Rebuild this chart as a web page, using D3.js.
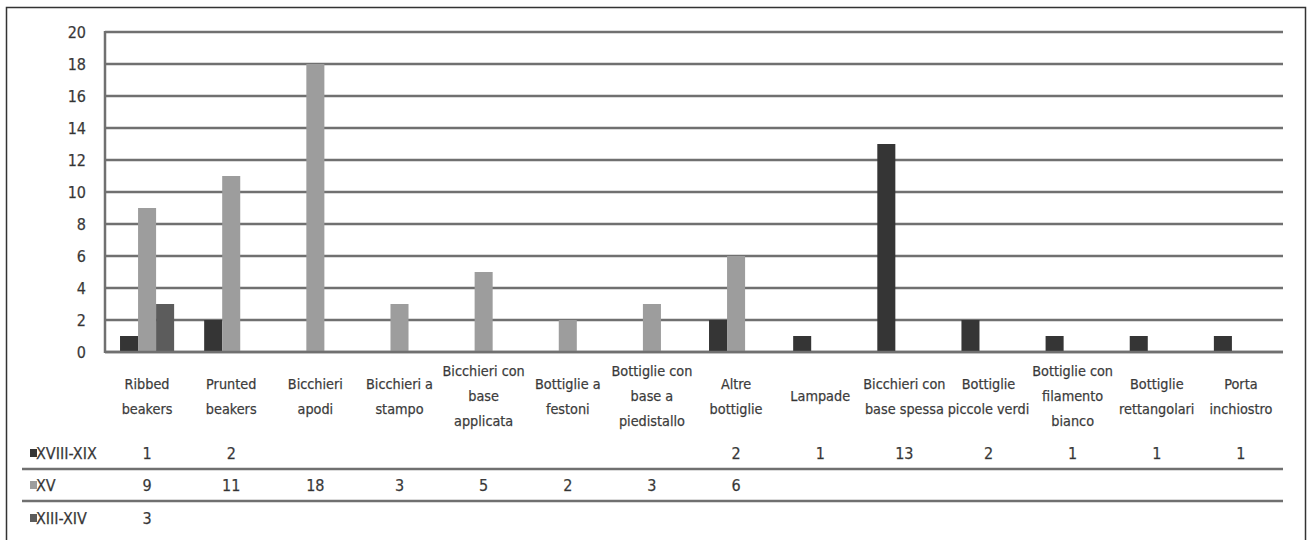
<!DOCTYPE html>
<html><head><meta charset="utf-8">
<script src="https://cdn.jsdelivr.net/npm/d3@7"></script>
<style>
html,body{margin:0;padding:0;background:#fff;}
svg text{font-family:"Liberation Sans Narrow","DejaVu Sans Condensed","Arial Narrow",sans-serif;fill:#333;stroke:#555;stroke-width:0.25px;}
</style></head>
<body><svg id="c" width="1307" height="540"></svg>
<script>
const categories = [
  ["Ribbed","beakers"],["Prunted","beakers"],["Bicchieri","apodi"],["Bicchieri a","stampo"],
  ["Bicchieri con","base","applicata"],["Bottiglie a","festoni"],["Bottiglie con","base a","piedistallo"],
  ["Altre","bottiglie"],["Lampade"],["Bicchieri con","base spessa"],["Bottiglie","piccole verdi"],
  ["Bottiglie con","filamento","bianco"],["Bottiglie","rettangolari"],["Porta","inchiostro"]
];
const seriesNames = ["XVIII-XIX","XV","XIII-XIV"];
const seriesColors = ["#353535","#9d9d9d","#5c5c5c"];
const valuesXVIII = [1,2,null,null,null,null,null,2,1,13,2,1,1,1];
const valuesXV = [9,11,18,3,5,2,3,6,null,null,null,null,null,null];
const valuesXIII = [3,null,null,null,null,null,null,null,null,null,null,null,null,null];
const yTicks = [0,2,4,6,8,10,12,14,16,18,20];

const series = [valuesXVIII, valuesXV, valuesXIII];
const svg = d3.select("#c");
const L = 105, R = 1283, T = 32, B = 352;

// outer frame
svg.append("rect").attr("x",6.5).attr("y",7.5).attr("width",1299).attr("height",545)
  .attr("fill","none").attr("stroke","#333").attr("stroke-width",1.5);

const idx = d3.range(categories.length);
const p = 0.357;
const x = d3.scaleBand().domain(idx).range([L,R]).paddingInner(p).paddingOuter(p/2);
const xs = d3.scaleBand().domain(d3.range(series.length)).range([0,x.bandwidth()]);
const y = d3.scaleLinear().domain([0,20]).range([B,T]);

// gridlines
svg.append("g").selectAll("line").data(yTicks).join("line")
  .attr("x1",L).attr("x2",R).attr("y1",d=>y(d)).attr("y2",d=>y(d))
  .attr("stroke","#707070").attr("stroke-width",2.5);

// y axis
const yAxis = d3.axisLeft(y).tickValues(yTicks).tickSize(0).tickPadding(0);
const gy = svg.append("g").attr("transform",`translate(${L-19},0)`).call(yAxis);
gy.select(".domain").remove();
gy.selectAll("text").attr("font-size",16).attr("fill","#333").style("font-family",null);
svg.append("line").attr("x1",L).attr("x2",L).attr("y1",T-1).attr("y2",B+1)
  .attr("stroke","#707070").attr("stroke-width",2.5);

// bars
series.forEach((vals,si)=>{
  svg.append("g").selectAll("rect").data(idx.filter(i=>vals[i]!=null)).join("rect")
    .attr("x",i=>x(i)+xs(si)).attr("width",xs.bandwidth())
    .attr("y",i=>y(vals[i])).attr("height",i=>y(0)-y(vals[i]))
    .attr("fill",seriesColors[si]);
});
// baseline over bars
svg.append("line").attr("x1",L).attr("x2",R).attr("y1",y(0)).attr("y2",y(0))
  .attr("stroke","#707070").attr("stroke-width",2.5);

// category labels
const lh = 25, midY = 396;
const cl = svg.append("g").selectAll("text").data(idx).join("text")
  .attr("text-anchor","middle").attr("font-size",14.3)
  .attr("x",i=>x(i)+x.bandwidth()/2);
cl.each(function(i){
  const lines = categories[i];
  const y0 = midY - (lines.length-1)*lh/2;
  d3.select(this).selectAll("tspan").data(lines).join("tspan")
    .attr("x",x(i)+x.bandwidth()/2).attr("y",(d,k)=>y0+k*lh).attr("dy","0.35em").text(d=>d);
});

// data table
const rowY = [453,485,518];
[469,501].forEach(yy=>{
  svg.append("line").attr("x1",22).attr("x2",R).attr("y1",yy).attr("y2",yy)
    .attr("stroke","#707070").attr("stroke-width",2.5);
});
series.forEach((vals,si)=>{
  const g = svg.append("g");
  g.append("rect").attr("x",30).attr("y",rowY[si]-4).attr("width",7).attr("height",8).attr("fill",seriesColors[si]);
  g.append("text").attr("x",36).attr("y",rowY[si]).attr("dy","0.35em").attr("font-size",16).text(seriesNames[si]);
  g.selectAll("text.v").data(idx.filter(i=>vals[i]!=null)).join("text").attr("class","v")
    .attr("text-anchor","middle").attr("font-size",16)
    .attr("x",i=>x(i)+x.bandwidth()/2).attr("y",rowY[si]).attr("dy","0.35em")
    .text(i=>vals[i]);
});
</script></body></html>
